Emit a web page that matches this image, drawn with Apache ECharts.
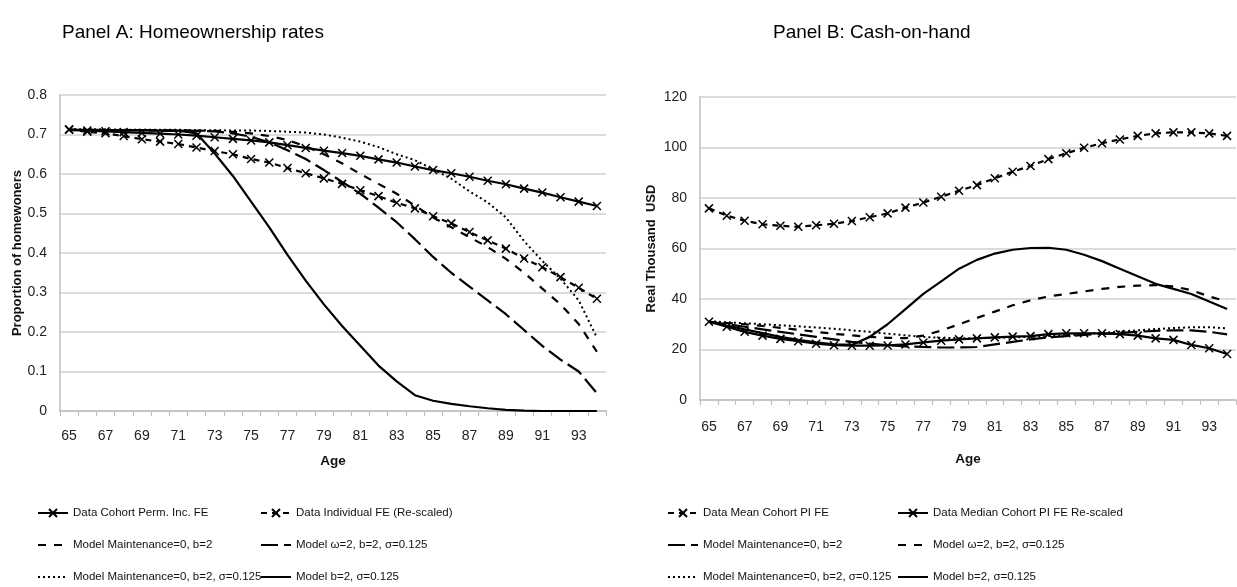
<!DOCTYPE html>
<html><head><meta charset="utf-8">
<script src="https://cdn.jsdelivr.net/npm/echarts@6/dist/echarts.min.js"></script>
<style>html,body{margin:0;padding:0;background:#fff}#c{width:1237px;height:587px}</style>
</head><body><div id="c"></div>
<script>
// ---- categories / tick labels ----
const ages = [65,66,67,68,69,70,71,72,73,74,75,76,77,78,79,80,81,82,83,84,85,86,87,88,89,90,91,92,93,94];

// ---- Panel A: Homeownership rates ----
const aCohort     = [0.712,0.710,0.708,0.706,0.704,0.702,0.700,0.697,0.693,0.689, 0.685,0.680,0.673,0.666,0.659,0.653,0.646,0.637,0.629,0.619, 0.610,0.602,0.593,0.583,0.574,0.563,0.553,0.541,0.530,0.519];
const aIndividual = [0.713,0.707,0.703,0.696,0.688,0.682,0.676,0.667,0.658,0.650, 0.638,0.629,0.615,0.602,0.589,0.575,0.559,0.544,0.527,0.513, 0.493,0.475,0.453,0.432,0.411,0.386,0.364,0.339,0.312,0.284];
const aMaint      = [0.712,0.712,0.711,0.711,0.711,0.710,0.710,0.710,0.709,0.707, 0.703,0.696,0.686,0.670,0.650,0.627,0.600,0.575,0.550,0.520, 0.490,0.465,0.440,0.415,0.385,0.350,0.310,0.270,0.220,0.150];
const aOmega      = [0.712,0.712,0.711,0.711,0.711,0.710,0.710,0.709,0.708,0.703, 0.694,0.680,0.660,0.638,0.610,0.580,0.550,0.515,0.478,0.435, 0.390,0.350,0.315,0.280,0.245,0.205,0.165,0.130,0.100,0.045];
const aMaintSig   = [0.713,0.713,0.713,0.712,0.712,0.712,0.712,0.711,0.711,0.710, 0.710,0.709,0.707,0.705,0.700,0.692,0.682,0.668,0.650,0.635, 0.612,0.588,0.556,0.528,0.490,0.430,0.380,0.335,0.280,0.186];
const aB2         = [0.711,0.711,0.711,0.711,0.711,0.710,0.710,0.703,0.652,0.595, 0.530,0.465,0.395,0.330,0.270,0.215,0.165,0.115,0.075,0.040, 0.026,0.018,0.012,0.007,0.003,0.001,0,0,0,0];

// ---- Panel B: Cash-on-hand (real thousand USD) ----
const bMean     = [75.9,73.0,71.0,69.6,69.0,68.6,69.2,69.8,70.9,72.4, 73.9,76.2,78.2,80.5,82.9,85.1,87.8,90.4,92.7,95.4, 97.7,99.9,101.7,103.2,104.6,105.6,106.0,106.0,105.6,104.6];
const bMedian   = [31.0,29.0,27.0,25.5,24.2,23.3,22.3,21.7,21.5,21.5, 21.6,22.0,22.8,23.5,24.0,24.4,24.8,25.1,25.3,26.1, 26.4,26.4,26.4,26.1,25.5,24.4,23.8,21.8,20.5,18.2];
const bMaint    = [31.0,30.0,29.0,28.0,27.0,26.0,25.0,24.0,23.0,22.3, 21.7,21.2,21.0,20.8,20.8,21.0,22.0,23.0,24.0,24.8, 25.3,25.8,26.2,26.6,27.0,27.4,27.6,27.6,27.0,26.0];
const bOmega    = [31.0,30.5,30.0,29.3,28.6,27.8,27.0,26.2,25.6,25.0, 24.6,24.5,25.5,27.5,30.0,32.5,35.0,37.5,39.5,41.0, 42.0,43.0,44.0,44.8,45.3,45.5,45.0,43.5,41.0,39.0];
const bMaintSig = [31.2,30.8,30.4,30.0,29.6,29.2,28.7,28.2,27.6,27.0, 26.3,25.6,25.0,24.6,24.5,24.5,24.6,24.8,25.0,25.3, 25.7,26.1,26.6,27.1,27.6,28.1,28.5,28.8,28.8,28.4];
const bB2       = [31.0,29.5,28.0,26.5,25.0,23.8,22.8,22.0,21.8,25.0, 30.0,36.0,42.0,47.0,52.0,55.5,58.0,59.5,60.2,60.3, 59.5,57.5,55.0,52.0,49.0,46.0,44.0,42.0,39.0,36.0];

// ---- labels ----
const nA = ['Data Cohort Perm. Inc. FE','Data Individual FE (Re-scaled)','Model Maintenance=0, b=2','Model \u03c9=2, b=2, \u03c3=0.125','Model Maintenance=0, b=2, \u03c3=0.125','Model b=2, \u03c3=0.125'];
const nB = ['Data Mean Cohort PI FE','Data Median Cohort PI FE Re-scaled','Model Maintenance=0, b=2 ','Model \u03c9=2, b=2, \u03c3=0.125 ','Model Maintenance=0, b=2, \u03c3=0.125 ','Model b=2, \u03c3=0.125 '];

const FONT = '"Liberation Sans", Arial, sans-serif';
const XSYM = 'path://M0,0L10,10M10,0L0,10';
const SHORT = [8,8], LONG = [17,6], DOT = [2,3], DASHX = [6,5];

function ser(name, data, idx, dash, marker, width){
  return {
    type:'line', name, data, xAxisIndex:idx, yAxisIndex:idx,
    symbol: marker ? XSYM : 'none', symbolSize: 8, showAllSymbol:true,
    itemStyle:{color:'#000', borderColor:'#000', borderWidth:1.5},
    lineStyle:{color:'#000', width: width||2.2, type: dash||'solid', cap:'butt'},
    emphasis:{disabled:true}, z: 3
  };
}

const axisCol = '#bfbfbf';
function xAx(idx, margin, gap){
  return {type:'category', gridIndex:idx, data:ages, boundaryGap:true,
    axisLine:{lineStyle:{color:axisCol, width:1.5}},
    axisTick:{show:true, interval:0, length:5, lineStyle:{color:axisCol, width:1.2}},
    axisLabel:{interval:1, color:'#222', fontFamily:FONT, fontSize:14, margin},
    splitLine:{show:false},
    name:'Age', nameLocation:'middle', nameGap:gap,
    nameTextStyle:{fontWeight:'bold', fontSize:13.5, fontFamily:FONT, color:'#111'}};
}
function yAx(idx, max, interval, name, gap){
  return {type:'value', gridIndex:idx, min:0, max, interval,
    axisLine:{show:true, lineStyle:{color:axisCol, width:1.5}},
    axisTick:{show:false},
    splitLine:{lineStyle:{color:'#d0d0d0', width:1.5}},
    axisLabel:{color:'#222', fontFamily:FONT, fontSize:14, margin:13},
    name, nameLocation:'middle', nameGap:gap,
    nameTextStyle:{fontWeight:'bold', fontSize:13, fontFamily:FONT, color:'#111'}};
}
const HIDE = {color:'rgba(0,0,0,0)', borderColor:'rgba(0,0,0,0)', borderWidth:0};
function leg(left, items){
  return {left, top:506, orient:'vertical', itemGap:18, itemWidth:30, itemHeight:10,
    data: items.map(([n, mk]) => mk ? {name:n} : {name:n, itemStyle:HIDE}),
    selectedMode:false, padding:0,
    textStyle:{fontFamily:FONT, fontSize:11.5, color:'#111', lineHeight:14}};
}

const chart = echarts.init(document.getElementById('c'), null, {renderer:'canvas'});
chart.setOption({
  animation:false,
  backgroundColor:'#fff',
  title:[
    {text:'Panel A: Homeownership rates', left:57, top:18, textStyle:{fontFamily:FONT, fontSize:19, fontWeight:'normal', color:'#000'}},
    {text:'Panel B: Cash-on-hand', left:768, top:18, textStyle:{fontFamily:FONT, fontSize:19, fontWeight:'normal', color:'#000'}}
  ],
  grid:[
    {left:60, top:95, width:546, height:316},
    {left:700, top:97, width:536, height:303}
  ],
  xAxis:[xAx(0, 18, 43), xAx(1, 20, 52)],
  yAxis:[yAx(0, 0.8, 0.1, 'Proportion of homewoners', 36), yAx(1, 120, 20, 'Real Thousand  USD', 42)],
  legend:[
    leg(37, [[nA[0],1],[nA[2],0],[nA[4],0]]),
    leg(260, [[nA[1],1],[nA[3],0],[nA[5],0]]),
    leg(667, [[nB[0],1],[nB[2],0],[nB[4],0]]),
    leg(897, [[nB[1],1],[nB[3],0],[nB[5],0]])
  ],
  series:[
    ser(nA[0], aCohort, 0, 'solid', true),
    ser(nA[1], aIndividual, 0, DASHX, true),
    ser(nA[2], aMaint, 0, SHORT, false),
    ser(nA[3], aOmega, 0, LONG, false),
    ser(nA[4], aMaintSig, 0, DOT, false, 2),
    ser(nA[5], aB2, 0, 'solid', false),
    ser(nB[0], bMean, 1, DASHX, true),
    ser(nB[1], bMedian, 1, 'solid', true),
    ser(nB[2], bMaint, 1, LONG, false),
    ser(nB[3], bOmega, 1, SHORT, false),
    ser(nB[4], bMaintSig, 1, DOT, false, 2),
    ser(nB[5], bB2, 1, 'solid', false)
  ]
});
</script>
</body></html>
